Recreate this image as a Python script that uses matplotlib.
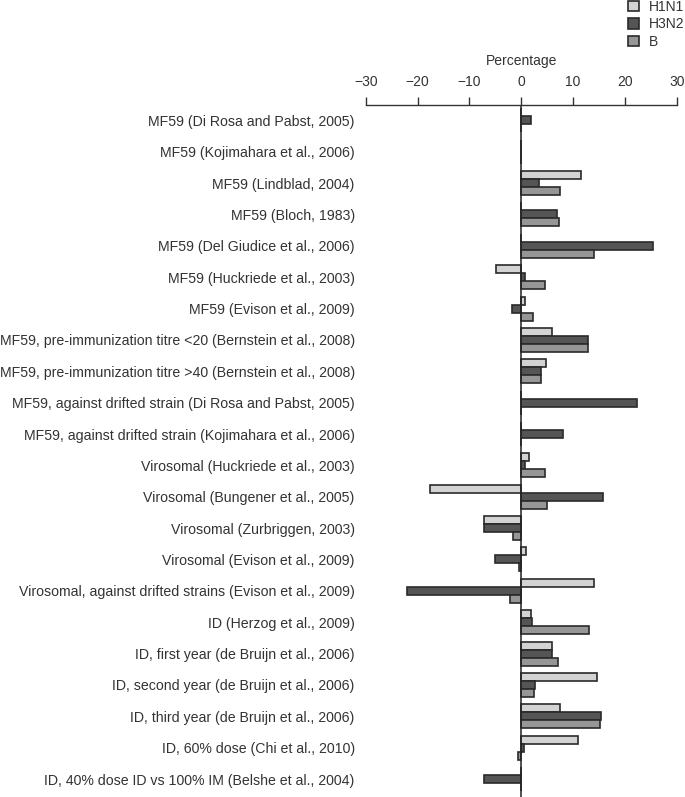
import matplotlib.pyplot as plt
import numpy as np

plt.rcParams['font.family'] = ['Liberation Sans', 'DejaVu Sans']

# studies, top to bottom
studies = [
    "MF59 (Di Rosa and Pabst, 2005)",
    "MF59 (Kojimahara et al., 2006)",
    "MF59 (Lindblad, 2004)",
    "MF59 (Bloch, 1983)",
    "MF59 (Del Giudice et al., 2006)",
    "MF59 (Huckriede et al., 2003)",
    "MF59 (Evison et al., 2009)",
    "MF59, pre-immunization titre <20 (Bernstein et al., 2008)",
    "MF59, pre-immunization titre >40 (Bernstein et al., 2008)",
    "MF59, against drifted strain (Di Rosa and Pabst, 2005)",
    "MF59, against drifted strain (Kojimahara et al., 2006)",
    "Virosomal (Huckriede et al., 2003)",
    "Virosomal (Bungener et al., 2005)",
    "Virosomal (Zurbriggen, 2003)",
    "Virosomal (Evison et al., 2009)",
    "Virosomal, against drifted strains (Evison et al., 2009)",
    "ID (Herzog et al., 2009)",
    "ID, first year (de Bruijn et al., 2006)",
    "ID, second year (de Bruijn et al., 2006)",
    "ID, third year (de Bruijn et al., 2006)",
    "ID, 60% dose (Chi et al., 2010)",
    "ID, 40% dose ID vs 100% IM (Belshe et al., 2004)",
]

# percentage difference per strain (0 = not reported)
h1n1 = [0, 0, 11.5, 0, 0, -4.9, 0.7, 5.9, 4.8, 0, 0,
        1.5, -17.6, -7.2, 0.9, 14.1, 1.9, 6.0, 14.7, 7.5, 10.9, 0]
h3n2 = [1.8, 0, 3.5, 6.8, 25.5, 0.8, -1.8, 12.9, 3.9, 22.4, 8.1,
        0.8, 15.8, -7.2, -5.1, -22.1, 2.0, 6.0, 2.7, 15.4, 0.6, -7.1]
flu_b = [0, 0, 7.5, 7.3, 14.0, 4.6, 2.25, 12.9, 3.9, 0, 0,
         4.6, 5.0, -1.6, -0.4, -2.1, 13.0, 7.0, 2.5, 15.1, -0.6, 0]

series = [("H1N1", h1n1, "#d3d3d3"), ("H3N2", h3n2, "#555555"), ("B", flu_b, "#969696")]

fig = plt.figure(figsize=(6.85, 7.97), dpi=100)
ax = fig.add_axes([0.534, 0.0, 0.454, 0.868])

y = np.arange(len(studies))
h = 0.255
for k, (name, vals, col) in enumerate(series):
    ax.barh(y + (k - 1) * h, vals, height=h, color=col,
            edgecolor="#2a2a2a", linewidth=1.2, label=name)

ax.axvline(0, color="#222222", linewidth=1.1)

ax.set_xlim(-30, 30)
ax.set_ylim(len(studies) - 1 + 0.57, -0.48)
ax.xaxis.tick_top()
ax.xaxis.set_label_position("top")
ax.set_xticks([-30, -20, -10, 0, 10, 20, 30])
ax.set_xticklabels(["\u221230", "\u221220", "\u221210", "0", "10", "20", "30"])
ax.set_xlabel("Percentage", fontsize=10, labelpad=7, color="#333333")
ax.tick_params(axis="x", direction="out", length=6, width=1, color="#333333",
               labelsize=10, labelcolor="#333333", pad=6)

ax.set_yticks(y)
ax.set_yticklabels(studies, fontsize=10.2, color="#333333")
ax.tick_params(axis="y", length=0, pad=8)

for side in ["left", "right", "bottom"]:
    ax.spines[side].set_visible(False)
ax.spines["top"].set_color("#333333")
ax.spines["top"].set_linewidth(1.0)

fig.legend(loc="upper left", bbox_to_anchor=(0.898, 1.016), frameon=False,
           fontsize=10, handlelength=0.8, handleheight=0.8, handletextpad=0.7,
           labelspacing=0.25, labelcolor="#333333")

fig.savefig("out.png", dpi=100)
